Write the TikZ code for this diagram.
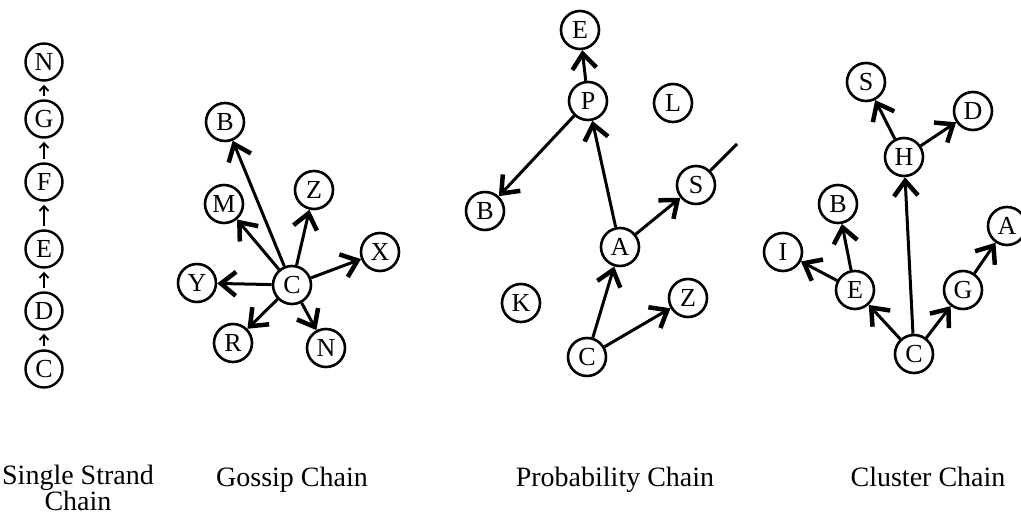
\documentclass[tikz,border=0pt]{standalone}
\usepackage{fontspec}
\setmainfont{Liberation Serif}
\usetikzlibrary{arrows.meta}
\begin{document}
\begin{tikzpicture}[x=1pt,y=-1pt,
  nd/.style={circle,draw,line width=2.6pt,minimum size=38pt,inner sep=0pt,font=\fontsize{26}{26}\selectfont},
  sn/.style={circle,draw,line width=2.4pt,minimum size=37pt,inner sep=0pt,font=\fontsize{26}{26}\selectfont},
  ar/.style={line width=3pt,-{Straight Barb[length=15pt,width=24pt,line width=4.5pt]}},
  sa/.style={line width=2pt,shorten >=3pt,shorten <=3pt,-{Straight Barb[length=5pt,width=9pt,line width=1.8pt]}},
  lab/.style={font=\fontsize{28}{25}\selectfont,align=center,anchor=base}]
\useasboundingbox (0,0) rectangle (1021,521);
\clip (0,0) rectangle (1021,521);
% Single strand chain
\node[sn] (sN) at (44,62) {N};
\node[sn] (sG) at (44,119) {G};
\node[sn] (sF) at (44,182) {F};
\node[sn] (sE) at (44,249) {E};
\node[sn] (sD) at (44,311) {D};
\node[sn] (sC) at (44,369) {C};
\draw[sa] (sC) -- (sD);
\draw[sa] (sD) -- (sE);
\draw[sa] (sE) -- (sF);
\draw[sa] (sF) -- (sG);
\draw[sa] (sG) -- (sN);
% Gossip chain
\node[nd] (gB) at (225,122) {B};
\node[nd] (gM) at (224,204) {M};
\node[nd] (gZ) at (314,190) {Z};
\node[nd] (gX) at (380,252) {X};
\node[nd] (gY) at (197,283) {Y};
\node[nd] (gC) at (292,285) {C};
\node[nd] (gR) at (233,343) {R};
\node[nd] (gN) at (326,348) {N};
\foreach \t in {gB,gM,gZ,gX,gY,gR,gN} \draw[ar] (gC) -- (\t);
% Probability chain
\node[nd] (pE) at (580,30) {E};
\node[nd] (pP) at (588,101) {P};
\node[nd] (pL) at (673,103) {L};
\node[nd] (pB) at (485,211) {B};
\node[nd] (pS) at (696,185) {S};
\node[nd] (pA) at (620,247) {A};
\node[nd] (pK) at (521,303) {K};
\node[nd] (pZ) at (688,298) {Z};
\node[nd] (pC) at (587,357) {C};
\coordinate (pOut) at (737,144);
\draw[ar] (pC) -- (pA);
\draw[ar] (pC) -- (pZ);
\draw[ar] (pA) -- (pP);
\draw[ar] (pA) -- (pS);
\draw[ar] (pP) -- (pE);
\draw[ar] (pP) -- (pB);
\draw[line width=3pt] (pS) -- (pOut);
% Cluster chain
\node[nd] (cS) at (866,82) {S};
\node[nd] (cD) at (973,111) {D};
\node[nd] (cH) at (904,157) {H};
\node[nd] (cB) at (838,204) {B};
\node[nd] (cA) at (1007,226) {A};
\node[nd] (cI) at (783,252) {I};
\node[nd] (cE) at (855,290) {E};
\node[nd] (cG) at (963,290) {G};
\node[nd] (cC) at (914,354) {C};
\draw[ar] (cC) -- (cE);
\draw[ar] (cC) -- (cH);
\draw[ar] (cC) -- (cG);
\draw[ar] (cE) -- (cI);
\draw[ar] (cE) -- (cB);
\draw[ar] (cH) -- (cS);
\draw[ar] (cH) -- (cD);
\draw[ar] (cG) -- (cA);
% Labels
\node[lab] (l1) at (78,511) {Single Strand\\Chain};
\node[lab] (l2) at (292,486) {Gossip Chain};
\node[lab] (l3) at (615,486) {Probability Chain};
\node[lab] (l4) at (928,486) {Cluster Chain};
\end{tikzpicture}
\end{document}
